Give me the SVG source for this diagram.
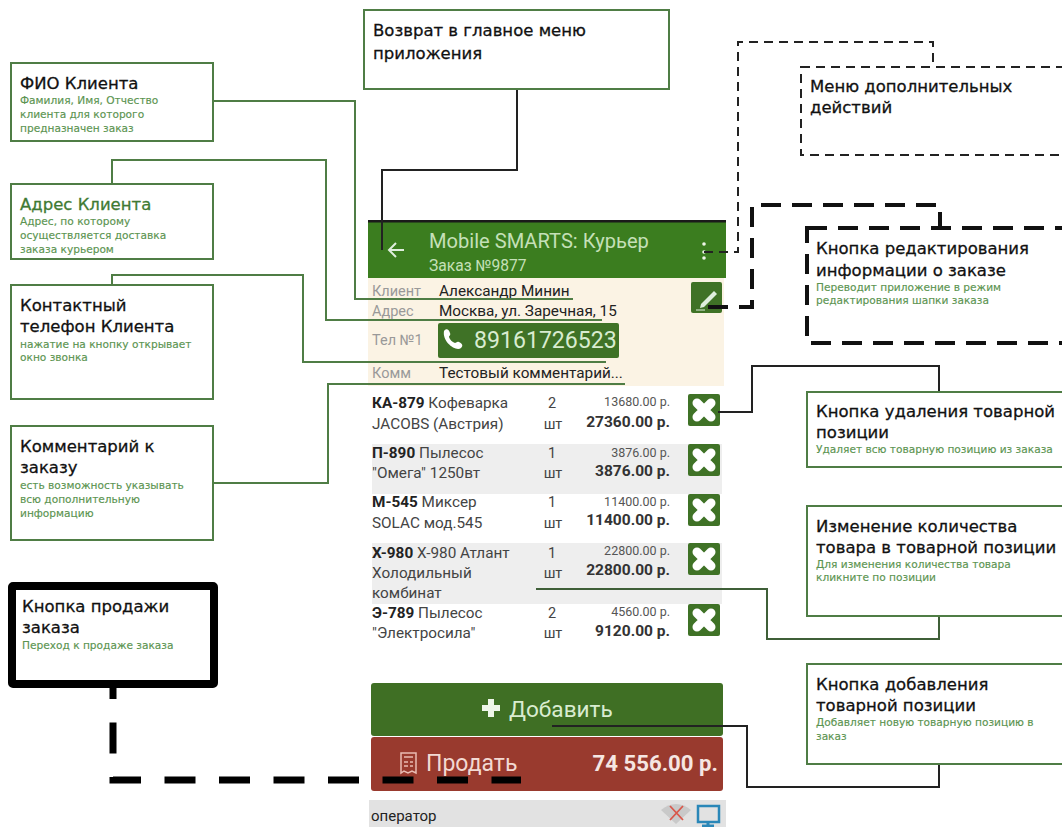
<svg xmlns="http://www.w3.org/2000/svg" width="1062" height="827" viewBox="0 0 1062 827">
<style>
text{font-family:"Roboto","Liberation Sans",sans-serif}
.box{fill:#fff;stroke:#4f7d45;stroke-width:2}
.t,.s{font-family:"DejaVu Sans","Noto Sans",sans-serif}
.t{font-size:16.5px;fill:#111;stroke:#111;stroke-width:.3px}
.s{font-size:10.6px;fill:#5b9450;stroke:#5b9450;stroke-width:.15px}
.c{fill:none;stroke:#4f7d45;stroke-width:2}
.k{fill:none;stroke:#222;stroke-width:2}
.lb{font-size:14.5px;fill:#999}
.v{font-size:15.3px;fill:#222}
.i{font-size:15.3px;fill:#444}
.q{font-size:14.5px;fill:#444;text-anchor:middle}
.p1{font-size:12.5px;fill:#555;text-anchor:end}
.p2{font-size:15.5px;font-weight:700;fill:#333;text-anchor:end}
.b{font-weight:700;fill:#222}
</style>
<defs>
<g id="del"><rect width="32" height="32" rx="2" fill="#3f7226"/><path d="M9 9L23 23M23 9L9 23" stroke="#fff" stroke-width="9" stroke-linecap="round"/></g>
</defs>
<rect width="1062" height="827" fill="#fff"/>

<g id="app">
<rect x="368" y="220" width="358" height="58" fill="#3b7d1f"/>
<rect x="368" y="220" width="358" height="2.5" fill="#1a1a1a"/>
<path d="M389 250H404M396 243L389 250L396 257" stroke="#dfeedd" stroke-width="2" fill="none"/>
<text x="429" y="248" font-size="20.1" fill="#c5e0b8">Mobile SMARTS: Курьер</text>
<text x="429" y="271" font-size="15.6" fill="#c5e0b8">Заказ №9877</text>
<circle cx="704" cy="244" r="1.8" fill="#eef5e8"/><circle cx="704" cy="252" r="1.8" fill="#eef5e8"/><circle cx="704" cy="258" r="1.8" fill="#eef5e8"/>
<rect x="368" y="278" width="356" height="108" fill="#fbf3e4"/>
<text class="lb" x="372" y="296">Клиент</text>
<text class="v" x="439" y="296">Александр Минин</text>
<text class="lb" x="372" y="316">Адрес</text>
<text class="v" x="439" y="316">Москва, ул. Заречная, 15</text>
<text class="lb" x="372" y="345">Тел №1</text>
<rect x="438" y="323" width="181" height="35" rx="2" fill="#3f7226"/>
<path d="M444 331C446 328 449 329 450 333C451 335 449 336 449 337C450 340 452 342 455 343C456 343 457 341 459 342C463 344 463 346 461 348C456 352 442 342 444 331Z" fill="#fff"/>
<text x="474" y="348" font-size="23.1" fill="#d9ecd0">89161726523</text>
<text class="lb" x="372" y="378">Комм</text>
<text class="v" x="439" y="378">Тестовый комментарий...</text>
<rect x="691" y="282" width="31" height="31" rx="2" fill="#3f7226"/>
<path d="M701 304L714 291L717 294L704 307L700 308Z" fill="#dfeedd"/><path d="M696 310H705" stroke="#dfeedd" stroke-width="1"/>
<rect x="372" y="444" width="350" height="50" fill="#eeeeee"/>
<rect x="372" y="543" width="350" height="61" fill="#eeeeee"/>

<text class="i" x="372" y="408"><tspan class="b">КА-879</tspan> Кофеварка</text>
<text class="i" x="372" y="429">JACOBS (Австрия)</text>
<text class="q" x="552" y="408">2</text><text class="q" x="553" y="429">шт</text>
<text class="p1" x="670" y="406">13680.00 р.</text><text class="p2" x="670" y="427">27360.00 р.</text>

<text class="i" x="372" y="458"><tspan class="b">П-890</tspan> Пылесос</text>
<text class="i" x="372" y="478">"Омега" 1250вт</text>
<text class="q" x="552" y="458">1</text><text class="q" x="553" y="478">шт</text>
<text class="p1" x="670" y="457">3876.00 р.</text><text class="p2" x="670" y="476">3876.00 р.</text>

<text class="i" x="372" y="507"><tspan class="b">М-545</tspan> Миксер</text>
<text class="i" x="372" y="528">SOLAC мод.545</text>
<text class="q" x="552" y="507">1</text><text class="q" x="553" y="528">шт</text>
<text class="p1" x="670" y="506">11400.00 р.</text><text class="p2" x="670" y="525">11400.00 р.</text>

<text class="i" x="372" y="558"><tspan class="b">Х-980</tspan> Х-980 Атлант</text>
<text class="i" x="372" y="578">Холодильный</text>
<text class="i" x="372" y="598">комбинат</text>
<text class="q" x="552" y="558">1</text><text class="q" x="553" y="578">шт</text>
<text class="p1" x="670" y="555">22800.00 р.</text><text class="p2" x="670" y="575">22800.00 р.</text>

<text class="i" x="372" y="618"><tspan class="b">Э-789</tspan> Пылесос</text>
<text class="i" x="372" y="638">"Электросила"</text>
<text class="q" x="552" y="618">2</text><text class="q" x="553" y="638">шт</text>
<text class="p1" x="670" y="616">4560.00 р.</text><text class="p2" x="670" y="636">9120.00 р.</text>

<use href="#del" x="688" y="394"/><use href="#del" x="688" y="444"/><use href="#del" x="688" y="494"/><use href="#del" x="688" y="543"/><use href="#del" x="688" y="604"/>

<rect x="371" y="683" width="352" height="53" rx="3" fill="#3f6f24"/>
<path d="M482 708H500M491 699V717" stroke="#eef5e8" stroke-width="6"/>
<text x="509" y="717" font-size="22.6" fill="#d9ecd0">Добавить</text>
<rect x="371" y="737" width="352" height="54" rx="3" fill="#993a2e"/>
<path d="M401 753H416V773L412 771L408 773L404 771L401 773Z" fill="none" stroke="#e9bcb3" stroke-width="1.5"/>
<path d="M404 757H413M404 762H408M410 762H413M404 766H408M410 766H413" stroke="#e9bcb3" stroke-width="1.5"/>
<text x="426" y="771" font-size="23" fill="#f2d9d3">Продать</text>
<text x="718" y="771" font-size="22.2" font-weight="700" fill="#f5e6e2" text-anchor="end">74 556.00 р.</text>
<rect x="369" y="800" width="357" height="27" fill="#e2e2e2"/>
<text x="371" y="821" font-size="15" fill="#222">оператор</text>
<path d="M661 810C670 802 682 802 691 810L676 824Z" fill="#c9c9c9"/>
<path d="M670 806L683 820M683 806L670 820" stroke="#d9574a" stroke-width="1.8"/>
<rect x="698" y="806" width="21" height="16" fill="none" stroke="#2a87b8" stroke-width="2.5"/>
<path d="M708 822V827M702 826H714" stroke="#2a87b8" stroke-width="3"/>
</g>

<g id="connectors">
<path class="c" d="M213 101H355V299H573"/>
<path class="c" d="M112 184V160H326V320H602"/>
<path class="c" d="M112 285V275H303V362H606"/>
<path class="c" d="M213 483H328V384H625"/>
<path class="k" d="M517 89V170H382V250"/>
<path d="M704 252H738V42H933V66" fill="none" stroke="#222" stroke-width="2" stroke-dasharray="9 6"/>
<path d="M708 307H752V205H940V228" fill="none" stroke="#111" stroke-width="4" stroke-dasharray="20 11"/>
<path class="k" d="M718 412H752V366H939V392"/>
<path class="c" d="M536 589H767V639H939V616" style="stroke:#3f5f38"/>
<path class="k" d="M552 726H747V787H939V764"/>
<path d="M113 668V780H521" fill="none" stroke="#000" stroke-width="7" stroke-dasharray="31 23.5"/>
</g>

<g id="node-return"><rect class="box" x="364" y="10" width="305" height="79"/>
<text class="t" x="373" y="36">Возврат в главное меню</text><text class="t" x="373" y="59">приложения</text></g>

<g id="node-fio"><rect class="box" x="11" y="63" width="202" height="78"/>
<text class="t" x="20" y="89">ФИО Клиента</text>
<text class="s" x="20" y="104">Фамилия, Имя, Отчество</text><text class="s" x="20" y="118">клиента для которого</text><text class="s" x="20" y="132">предназначен заказ</text></g>

<g id="node-address"><rect class="box" x="11" y="184" width="202" height="75"/>
<text class="t" x="20" y="210" style="fill:#3f7a33;stroke:#3f7a33">Адрес Клиента</text>
<text class="s" x="20" y="225">Адрес, по которому</text><text class="s" x="20" y="239">осуществляется доставка</text><text class="s" x="20" y="253">заказа курьером</text></g>

<g id="node-phone"><rect class="box" x="11" y="285" width="202" height="114"/>
<text class="t" x="20" y="311">Контактный</text><text class="t" x="20" y="332">телефон Клиента</text>
<text class="s" x="20" y="348">нажатие на кнопку открывает</text><text class="s" x="20" y="361">окно звонка</text></g>

<g id="node-comment"><rect class="box" x="11" y="426" width="202" height="114"/>
<text class="t" x="20" y="452">Комментарий к</text><text class="t" x="20" y="473">заказу</text>
<text class="s" x="20" y="489">есть возможность указывать</text><text class="s" x="20" y="503">всю дополнительную</text><text class="s" x="20" y="517">информацию</text></g>

<g id="node-sell"><rect x="12" y="586" width="202" height="98" rx="1" fill="#fff" stroke="#000" stroke-width="8"/>
<text class="t" x="22" y="612">Кнопка продажи</text><text class="t" x="22" y="633">заказа</text>
<text class="s" x="22" y="649">Переход к продаже заказа</text></g>

<g id="node-menu"><rect x="801" y="67" width="280" height="88" fill="#fff" stroke="#222" stroke-width="2" stroke-dasharray="9 6"/>
<text class="t" x="810" y="92">Меню дополнительных</text><text class="t" x="810" y="113">действий</text></g>

<g id="node-edit"><rect x="807" y="228" width="280" height="115" fill="#fff" stroke="#111" stroke-width="4" stroke-dasharray="20 11"/>
<text class="t" x="816" y="254">Кнопка редактирования</text><text class="t" x="816" y="276">информации о заказе</text>
<text class="s" x="816" y="291">Переводит приложение в режим</text><text class="s" x="816" y="304">редактирования шапки заказа</text></g>

<g id="node-delete"><rect class="box" x="807" y="392" width="280" height="75"/>
<text class="t" x="816" y="417">Кнопка удаления товарной</text><text class="t" x="816" y="438">позиции</text>
<text class="s" x="816" y="453">Удаляет всю товарную позицию из заказа</text></g>

<g id="node-qty"><rect class="box" x="807" y="506" width="280" height="110"/>
<text class="t" x="816" y="532">Изменение количества</text><text class="t" x="816" y="553">товара в товарной позиции</text>
<text class="s" x="816" y="568">Для изменения количества товара</text><text class="s" x="816" y="581">кликните по позиции</text></g>

<g id="node-add"><rect class="box" x="807" y="664" width="280" height="100"/>
<text class="t" x="816" y="690">Кнопка добавления</text><text class="t" x="816" y="711">товарной позиции</text>
<text class="s" x="816" y="726">Добавляет новую товарную позицию в</text><text class="s" x="816" y="740">заказ</text></g>
</svg>
